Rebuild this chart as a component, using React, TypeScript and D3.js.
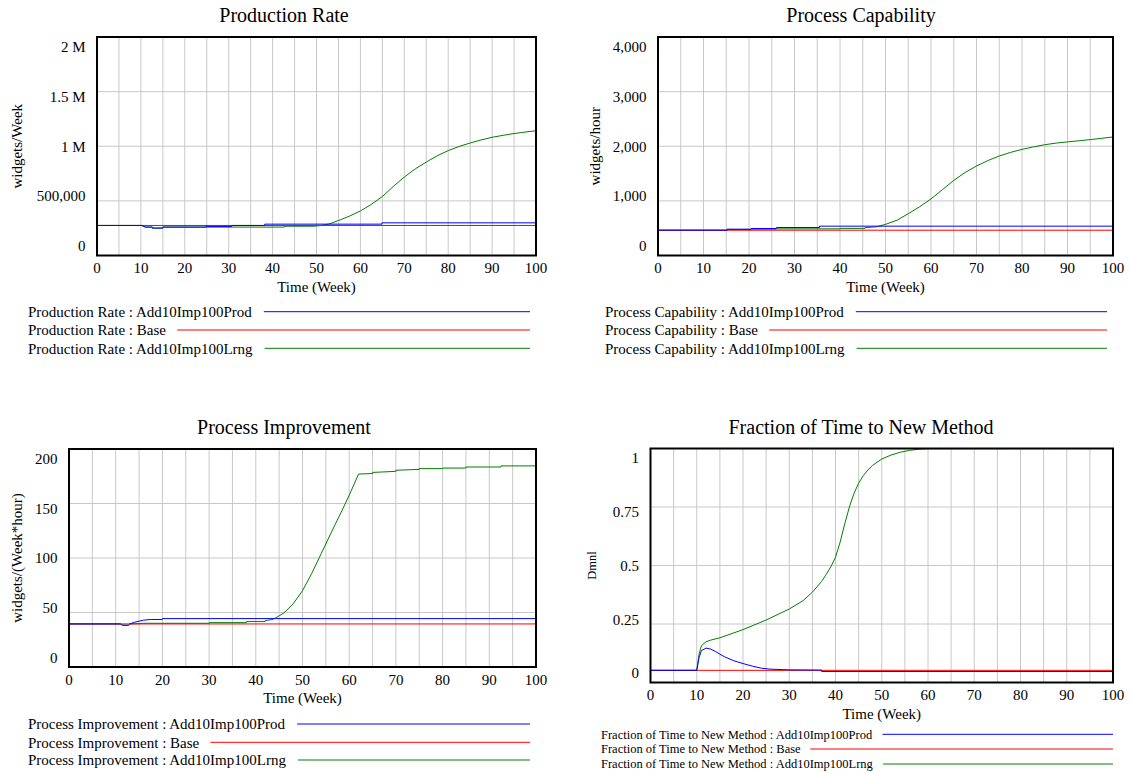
import React from "react";
import * as d3 from "d3";

type Pt = [number, number];

// ---------- shared axis / legend data ----------
const TIME_TICKS = [0, 10, 20, 30, 40, 50, 60, 70, 80, 90, 100];
const TIME_GRID = [5, 10, 15, 20, 25, 30, 35, 40, 45, 50, 55, 60, 65, 70, 75, 80, 85, 90, 95];
const SCENARIOS = ["Add10Imp100Prod", "Base", "Add10Imp100Lrng"];
const SCENARIO_COLORS = ["#0000ff", "#ff0000", "#008000"];
const DRAW_ORDER = [2, 1, 0];

// ---------- Production Rate (widgets/Week) ----------
const prTicks = [0, 500000, 1000000, 1500000, 2000000];
const prTickLabels = ["0", "500,000", "1 M", "1.5 M", "2 M"];
const prProd: Pt[] = [
  [0, 275000], [10.2, 275000], [11, 260000], [12.6, 260000], [12.6, 251000], [15, 251000],
  [15, 260000], [24.8, 260000], [24.8, 266000], [30.7, 266000], [30.7, 275000], [38.2, 275000],
  [38.2, 287000], [64.9, 287000], [64.9, 299000], [100, 299000],
];
const prBase: Pt[] = [[0, 275000], [100, 275000]];
const prLrng: Pt[] = [
  [0, 275000], [10.2, 275000], [11, 260000], [12.6, 260000], [12.6, 251000], [15, 251000],
  [15, 260000], [42.7, 260000], [42.7, 268000], [49.5, 268000], [51, 275000], [53, 290000],
  [55, 320000], [57.5, 360000], [60, 408000], [62.5, 468000], [65, 540000], [67.5, 632000],
  [70, 718000], [72.5, 793000], [75, 855000], [77.5, 913000], [80, 960000], [82.5, 998000],
  [85, 1030000], [87.5, 1058000], [90, 1082000], [92.5, 1100000], [95, 1116000],
  [97.5, 1130000], [100, 1142000],
];

// ---------- Process Capability (widgets/hour) ----------
const pcTicks = [0, 1000, 2000, 3000, 4000];
const pcTickLabels = ["0", "1,000", "2,000", "3,000", "4,000"];
const pcProd: Pt[] = [
  [0, 463], [15.2, 463], [15.2, 482], [20.5, 482], [20.5, 494], [26, 494], [26, 512],
  [35.5, 512], [35.5, 537], [100, 537],
];
const pcBase: Pt[] = [[0, 463], [100, 463]];
const pcLrng: Pt[] = [
  [0, 463], [15.2, 463], [15.2, 475], [20.5, 475], [20.5, 482], [26, 482], [26, 488],
  [40, 488], [40, 496], [45.5, 496], [45.5, 510], [48, 525], [50, 570], [52.5, 645],
  [55, 765], [57.5, 892], [60, 1035], [62.5, 1205], [65, 1375], [67.5, 1520], [70, 1638],
  [72.5, 1738], [75, 1822], [77.5, 1888], [80, 1943], [82.5, 1988], [85, 2028],
  [87.5, 2058], [90, 2080], [92.5, 2100], [95, 2122], [97.5, 2145], [100, 2170],
];

// ---------- Process Improvement (widgets/(Week*hour)) ----------
const piTicks = [0, 50, 100, 150, 200];
const piTickLabels = ["0", "50", "100", "150", "200"];
const piProd: Pt[] = [
  [0, 39.5], [11, 39.5], [11.5, 38.3], [12.7, 38.3], [13, 39.5], [14, 41], [15, 42],
  [16, 43], [17.5, 43.6], [20, 43.6], [20, 44.4], [100, 44.4],
];
const piBase: Pt[] = [[0, 39.5], [100, 39.5]];
const piLrng: Pt[] = [
  [0, 39.5], [11, 39.5], [11.5, 38.3], [12.7, 38.3], [13, 39.5], [15, 39.8], [16, 40.1],
  [30, 40.1], [30, 40.7], [38, 40.7], [38, 41.7], [42, 41.7], [42, 42.6], [43.5, 43.5],
  [44, 44.4], [45, 47], [46, 49.5], [48, 58], [50, 70], [52, 86], [54, 104], [56, 122],
  [58, 139.5], [60, 157.5], [62, 177], [65, 177.5], [65, 178.5], [70, 179.5], [70, 180.5],
  [75, 181.3], [75, 182], [80, 182], [80, 182.5], [85, 182.5], [85, 183.5], [92.5, 183.5],
  [92.5, 184.5], [100, 184.5],
];

// ---------- Fraction of Time to New Method (Dmnl) ----------
const ftTicks = [0, 0.25, 0.5, 0.75, 1];
const ftTickLabels = ["0", "0.25", "0.5", "0.75", "1"];
const ftProd: Pt[] = [
  [0, 0.052], [10, 0.052], [10.5, 0.107], [11, 0.136], [12, 0.147], [13, 0.143],
  [14, 0.133], [15, 0.121], [16, 0.11], [18, 0.093], [20, 0.081], [22, 0.07], [24, 0.061],
  [26, 0.057], [30, 0.054], [37, 0.053], [37, 0.047], [100, 0.047],
];
const ftBase: Pt[] = [[0, 0.052], [100, 0.052]];
const ftLrng: Pt[] = [
  [0, 0.052], [10, 0.052], [10.5, 0.121], [11, 0.157], [12, 0.174], [13, 0.181],
  [15, 0.191], [20, 0.226], [25, 0.267], [30, 0.314], [33, 0.35], [35, 0.386], [37, 0.432],
  [38, 0.462], [39, 0.495], [40, 0.535], [41, 0.6], [42, 0.678], [43, 0.75], [44, 0.808],
  [45, 0.852], [46, 0.884], [47, 0.908], [48, 0.928], [50, 0.955], [52, 0.972], [54, 0.984],
  [56, 0.992], [58, 0.997], [60, 0.999], [100, 1],
];

// ---------- layout ----------
interface Panel {
  title: string;
  yLabel: string;
  ticks: number[];
  tickLabels: string[];
  series: Pt[][];
  left: number; right: number; top: number; bottom: number;
  titleX: number; titleY: number;
  yLabelX: number; yLabelSize: number;
  legendX: number; legendYs: number[]; legendEnd: number; legendSize: number;
}

const panels: Panel[] = [
  {
    title: "Production Rate", yLabel: "widgets/Week", ticks: prTicks, tickLabels: prTickLabels,
    series: [prProd, prBase, prLrng],
    left: 97, right: 536, top: 37, bottom: 255.5, titleX: 284, titleY: 15,
    yLabelX: 17, yLabelSize: 15,
    legendX: 28, legendYs: [311.7, 330, 348.3], legendEnd: 530, legendSize: 15,
  },
  {
    title: "Process Capability", yLabel: "widgets/hour", ticks: pcTicks, tickLabels: pcTickLabels,
    series: [pcProd, pcBase, pcLrng],
    left: 658, right: 1113, top: 37, bottom: 255.5, titleX: 861, titleY: 15,
    yLabelX: 594.5, yLabelSize: 15,
    legendX: 605, legendYs: [311.7, 330, 348.3], legendEnd: 1107, legendSize: 15,
  },
  {
    title: "Process Improvement", yLabel: "widgets/(Week*hour)", ticks: piTicks, tickLabels: piTickLabels,
    series: [piProd, piBase, piLrng],
    left: 69, right: 536, top: 449, bottom: 667, titleX: 284, titleY: 427,
    yLabelX: 17, yLabelSize: 15,
    legendX: 28, legendYs: [724, 742.3, 760], legendEnd: 530, legendSize: 15,
  },
  {
    title: "Fraction of Time to New Method", yLabel: "Dmnl", ticks: ftTicks, tickLabels: ftTickLabels,
    series: [ftProd, ftBase, ftLrng],
    left: 650.5, right: 1113, top: 448.5, bottom: 682.5, titleX: 861, titleY: 427,
    yLabelX: 592, yLabelSize: 12.5,
    legendX: 601, legendYs: [734.3, 749, 764], legendEnd: 1113, legendSize: 12.5,
  },
];

const FONT = '"Liberation Serif", "Times New Roman", serif';

let ctx: CanvasRenderingContext2D | null = null;
function measure(text: string, size: number): number {
  if (!ctx) ctx = document.createElement("canvas").getContext("2d");
  if (!ctx) return text.length * size * 0.45;
  ctx.font = `${size}px "Liberation Serif"`;
  return ctx.measureText(text).width;
}

function PanelView({ p }: { p: Panel }) {
  const x = d3.scaleLinear().domain([0, 100]).range([p.left, p.right]);
  const yMax = p.ticks[p.ticks.length - 1];
  const y = d3.scaleLinear().domain([0, yMax]).range([p.bottom, p.top]);
  // Vensim places value labels evenly inside the frame
  const yLab = d3.scaleLinear().domain([0, yMax]).range([p.bottom - 9.5, p.top + 9.5]);
  const line = d3.line<Pt>().x((d) => x(d[0])).y((d) => y(d[1]));
  const cy = (p.top + p.bottom) / 2;
  const cx = (p.left + p.right) / 2;
  return (
    <g>
      <text x={p.titleX} y={p.titleY} dy="0.35em" textAnchor="middle" fontSize={20} fontFamily={FONT}>
        {p.title}
      </text>
      {TIME_GRID.map((t) => (
        <line key={"vg" + t} x1={x(t)} x2={x(t)} y1={p.top} y2={p.bottom} stroke="#c8c8c8" strokeWidth={1} />
      ))}
      {p.ticks.slice(1, -1).map((v) => (
        <line key={"hg" + v} x1={p.left} x2={p.right} y1={y(v)} y2={y(v)} stroke="#c8c8c8" strokeWidth={1} />
      ))}
      {DRAW_ORDER.map((i) => (
        <path key={"s" + i} d={line(p.series[i]) || ""} fill="none" stroke={SCENARIO_COLORS[i]} strokeWidth={1} />
      ))}
      <rect x={p.left} y={p.top} width={p.right - p.left} height={p.bottom - p.top} fill="none" stroke="#000" strokeWidth={2} />
      {p.ticks.map((v, i) => (
        <text key={"yt" + v} x={p.left - 11.5} y={yLab(v)} dy="0.35em" textAnchor="end" fontSize={15} fontFamily={FONT}>
          {p.tickLabels[i]}
        </text>
      ))}
      {TIME_TICKS.map((t) => (
        <text key={"xt" + t} x={x(t)} y={p.bottom + 12.5} dy="0.35em" textAnchor="middle" fontSize={15} fontFamily={FONT}>
          {t}
        </text>
      ))}
      <text x={cx} y={p.bottom + 31} dy="0.35em" textAnchor="middle" fontSize={15} fontFamily={FONT}>
        Time (Week)
      </text>
      <text
        transform={`translate(${p.yLabelX},${cy}) rotate(-90)`}
        dy="0.35em"
        textAnchor="middle"
        fontSize={p.yLabelSize}
        fontFamily={FONT}
      >
        {p.yLabel}
      </text>
      {SCENARIOS.map((s, i) => {
        const label = `${p.title} : ${s}`;
        const w = measure(label, p.legendSize);
        const ly = p.legendYs[i];
        return (
          <g key={"lg" + s}>
            <text x={p.legendX} y={ly} dy="0.35em" fontSize={p.legendSize} fontFamily={FONT}>
              {label}
            </text>
            <line
              x1={p.legendX + w + p.legendSize * 0.75}
              x2={p.legendEnd}
              y1={ly}
              y2={ly}
              stroke={SCENARIO_COLORS[i]}
              strokeWidth={1}
            />
          </g>
        );
      })}
    </g>
  );
}

export default function App() {
  return (
    <svg
      width={1130}
      height={773}
      style={{ position: "absolute", left: 0, top: 0, background: "#fff" }}
    >
      <rect x={0} y={0} width={1130} height={773} fill="#fff" />
      {panels.map((p) => (
        <PanelView key={p.title} p={p} />
      ))}
    </svg>
  );
}
